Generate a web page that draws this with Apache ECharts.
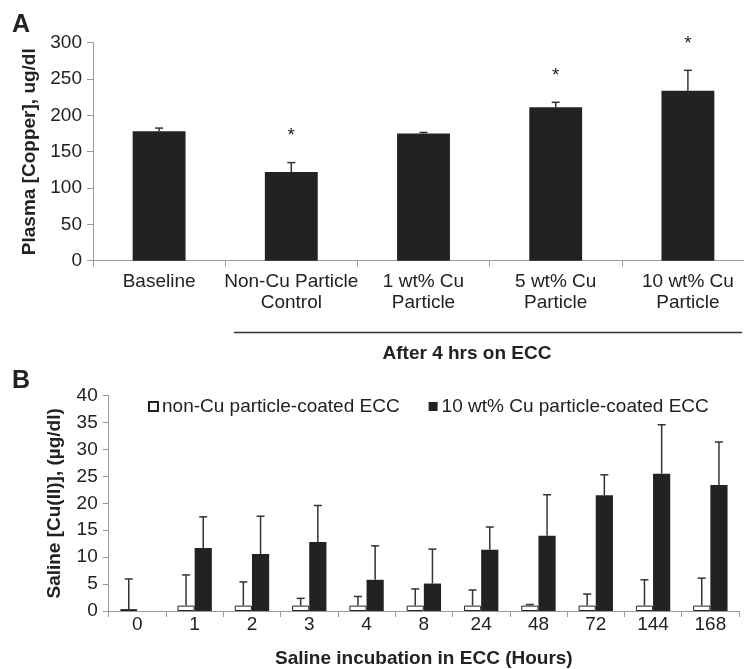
<!DOCTYPE html>
<html>
<head>
<meta charset="utf-8">
<script src="https://cdn.jsdelivr.net/npm/echarts@6/dist/echarts.min.js"></script>
<style>
html,body{margin:0;padding:0;background:#fff;overflow:hidden;width:744px;height:669px;}
#c{width:760px;height:669px;}
</style>
</head>
<body>
<div id="c"></div>
<script>
// Panel A data
const catsA = ['Baseline', 'Non-Cu Particle\nControl', '1 wt% Cu\nParticle', '5 wt% Cu\nParticle', '10 wt% Cu\nParticle'];
const meanA = [178, 122, 175, 211, 234];
const errA = [4.5, 13, 1.5, 7, 28];
const sigA = [false, true, false, true, true];

// Panel B data
const catsB = ['0', '1', '2', '3', '4', '8', '24', '48', '72', '144', '168'];
const nonCuB = [0.35, 1, 1, 1, 1, 1, 1, 1, 1, 1, 1];
const nonCuErrB = [5.6, 5.7, 4.4, 1.35, 1.7, 3.1, 2.9, 0.2, 2.15, 4.8, 5.1];
const cu10B = [0, 11.7, 10.6, 12.8, 5.8, 5.1, 11.4, 14.0, 21.5, 25.5, 23.4];
const cu10ErrB = [0, 5.8, 7.0, 6.8, 6.3, 6.4, 4.2, 7.6, 3.8, 9.1, 8.0];

const seriesNamesB = ['non-Cu particle-coated ECC', '10 wt% Cu particle-coated ECC'];

const FONT = "'Liberation Sans', Arial, Helvetica, sans-serif";
const TXT = '#222';
const AXIS = '#9a9a9a';
const BAR = '#222';
const ERR = '#333';

function errRender(offsetFrac, star) {
  return function (params, api) {
    const i = api.value(0);
    const mean = api.value(1);
    const top = api.value(2);
    if (top - mean <= 0) return null;
    const band = api.size([1, 0])[0];
    const p0 = api.coord([i, mean]);
    const p1 = api.coord([i, top]);
    const x = p0[0] + band * offsetFrac;
    const st = { stroke: ERR, lineWidth: 1.5 };
    const children = [
      { type: 'line', shape: { x1: x, y1: p0[1], x2: x, y2: p1[1] }, style: st },
      { type: 'line', shape: { x1: x - 4, y1: p1[1], x2: x + 4, y2: p1[1] }, style: st }
    ];
    if (star && api.value(3)) {
      children.push({
        type: 'text', x: x, y: p1[1] - 17,
        style: { text: '*', fontSize: 19, fontFamily: FONT, fill: TXT, align: 'center', verticalAlign: 'bottom' }
      });
    }
    return { type: 'group', children: children };
  };
}

const chart = echarts.init(document.getElementById('c'), null, { renderer: 'canvas' });
chart.setOption({
  animation: false,
  textStyle: { fontFamily: FONT, color: TXT },
  grid: [
    { left: 93, top: 42.7, width: 661, height: 218 },
    { left: 108.7, top: 395.7, width: 630.3, height: 215.6 }
  ],
  legend: {
    data: seriesNamesB,
    left: 148, top: 397,
    padding: 0,
    itemWidth: 9, itemHeight: 9, itemGap: 29,
    icon: 'rect',
    textStyle: { fontSize: 19, fontFamily: FONT, color: TXT, padding: [0, 0, 0, -1] }
  },
  xAxis: [
    {
      type: 'category', gridIndex: 0, data: catsA,
      axisLine: { lineStyle: { color: AXIS, width: 1 } },
      axisTick: { show: true, length: 6, lineStyle: { color: AXIS } },
      axisLabel: { fontSize: 19, color: TXT, fontFamily: FONT, margin: 11, lineHeight: 21, interval: 0 }
    },
    {
      type: 'category', gridIndex: 1, data: catsB,
      name: 'Saline incubation in ECC (Hours)',
      nameLocation: 'middle', nameGap: 38,
      nameTextStyle: { fontSize: 19, fontWeight: 'bold', color: TXT, fontFamily: FONT },
      axisLine: { lineStyle: { color: AXIS, width: 1 } },
      axisTick: { show: true, length: 6, lineStyle: { color: AXIS } },
      axisLabel: { fontSize: 19, color: TXT, fontFamily: FONT, margin: 4, interval: 0 }
    }
  ],
  yAxis: [
    {
      type: 'value', gridIndex: 0, min: 0, max: 300, interval: 50,
      name: 'Plasma [Copper], ug/dl',
      nameLocation: 'middle', nameGap: 51,
      nameTextStyle: { fontSize: 19, fontWeight: 'bold', color: TXT, fontFamily: FONT },
      axisLine: { show: true, lineStyle: { color: AXIS, width: 1 } },
      axisTick: { show: true, length: 6, lineStyle: { color: AXIS } },
      splitLine: { show: false },
      axisLabel: { fontSize: 19, color: TXT, fontFamily: FONT, margin: 11 }
    },
    {
      type: 'value', gridIndex: 1, min: 0, max: 40, interval: 5,
      name: 'Saline [Cu(II)], (µg/dl)',
      nameLocation: 'middle', nameGap: 44,
      nameTextStyle: { fontSize: 19, fontWeight: 'bold', color: TXT, fontFamily: FONT },
      axisLine: { show: true, lineStyle: { color: AXIS, width: 1 } },
      axisTick: { show: true, length: 6, lineStyle: { color: AXIS } },
      splitLine: { show: false },
      axisLabel: { fontSize: 19, color: TXT, fontFamily: FONT, margin: 11 }
    }
  ],
  series: [
    {
      type: 'bar', xAxisIndex: 0, yAxisIndex: 0, data: meanA,
      barWidth: '40%',
      itemStyle: { color: BAR }
    },
    {
      type: 'custom', xAxisIndex: 0, yAxisIndex: 0,
      data: meanA.map((m, i) => [i, m, m + errA[i], sigA[i] ? 1 : 0]),
      encode: { x: 0, y: 2 },
      renderItem: errRender(0, true), z: 5
    },
    {
      name: seriesNamesB[0],
      type: 'bar', xAxisIndex: 1, yAxisIndex: 1, data: nonCuB,
      barWidth: '30%', barGap: '0%',
      itemStyle: { color: '#fff', borderColor: '#222', borderWidth: 1 }
    },
    {
      name: seriesNamesB[1],
      type: 'bar', xAxisIndex: 1, yAxisIndex: 1, data: cu10B,
      barWidth: '30%', barGap: '0%',
      itemStyle: { color: BAR }
    },
    {
      type: 'custom', xAxisIndex: 1, yAxisIndex: 1,
      data: nonCuB.map((m, i) => [i, m, m + nonCuErrB[i], 0]),
      encode: { x: 0, y: 2 },
      renderItem: errRender(-0.15, false), z: 5
    },
    {
      type: 'custom', xAxisIndex: 1, yAxisIndex: 1,
      data: cu10B.map((m, i) => [i, m, m + cu10ErrB[i], 0]),
      encode: { x: 0, y: 2 },
      renderItem: errRender(0.15, false), z: 5
    }
  ],
  graphic: [
    { type: 'text', left: 12, top: 13, style: { text: 'A', fontSize: 25, fontWeight: 'bold', fontFamily: FONT, fill: TXT } },
    { type: 'text', left: 12, top: 369, style: { text: 'B', fontSize: 25, fontWeight: 'bold', fontFamily: FONT, fill: TXT } },
    { type: 'line', shape: { x1: 234, y1: 332.5, x2: 742, y2: 332.5 }, style: { stroke: '#333', lineWidth: 1.5 } },
    { type: 'text', x: 467, y: 354, style: { text: 'After 4 hrs on ECC', fontSize: 19, fontWeight: 'bold', fontFamily: FONT, fill: TXT, align: 'center', verticalAlign: 'middle' } }
  ]
});
</script>
</body>
</html>
